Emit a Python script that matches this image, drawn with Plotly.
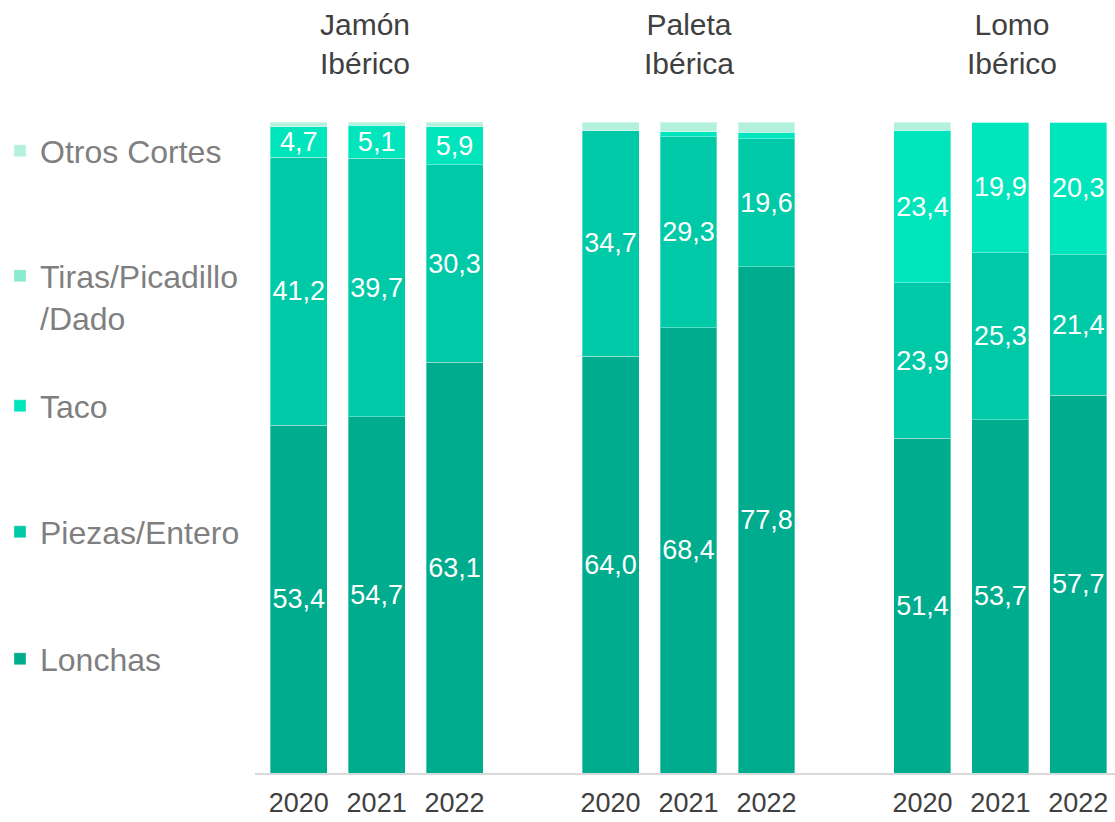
import plotly.graph_objects as go

# Categories
products = ["Jamón<br>Ibérico", "Paleta<br>Ibérica", "Lomo<br>Ibérico"]
years = ["2020", "2021", "2022"]

# Share (%) per cut, ordered product by product, year by year
lonchas = [53.4, 54.7, 63.1, 64.0, 68.4, 77.8, 51.4, 53.7, 57.7]
piezas = [41.2, 39.7, 30.3, 34.7, 29.3, 19.6, 23.9, 25.3, 21.4]
taco = [4.7, 5.1, 5.9, 0.0, 0.8, 1.0, 23.4, 19.9, 20.3]
tiras = [0.0, 0.0, 0.0, 0.0, 0.0, 0.0, 0.0, 0.0, 0.0]
otros = [0.7, 0.5, 0.7, 1.3, 1.5, 1.6, 1.3, 0.0, 0.0]

series = [
    ("Lonchas", lonchas, "#00AC8E"),
    ("Piezas/Entero", piezas, "#00C9A7"),
    ("Taco", taco, "#00E5BC"),
    ("Tiras/Picadillo<br>/Dado", tiras, "#88EBD0"),
    ("Otros Cortes", otros, "#B4F1DD"),
]

FONT = "Arial, Liberation Sans, sans-serif"

# One slot per year, with an empty slot between products
x_pos = [g * 4 + i for g in range(len(products)) for i in range(len(years))]
tick_text = [y for _ in products for y in years]


def label(v):
    return f"{v:.1f}".replace(".", ",") if v >= 3 else ""


# Vertical centre (px from top) of each legend entry
legend_y_px = {"Lonchas": 659, "Piezas/Entero": 532, "Taco": 406,
               "Tiras/Picadillo<br>/Dado": 297, "Otros Cortes": 151}

fig = go.Figure()
layout_legends = {}
for k, (name, vals, color) in enumerate(series):
    lg = "legend" if k == 0 else f"legend{k + 1}"
    fig.add_trace(go.Bar(
        x=x_pos, y=vals, name=name,
        marker=dict(color=color, line=dict(color="rgba(255,255,255,0.35)", width=1)),
        text=[label(v) for v in vals], texttemplate="%{text}",
        textposition="inside", insidetextanchor="middle",
        textangle=0, constraintext="none",
        insidetextfont=dict(color="white", size=27, family=FONT),
        legend=lg, showlegend=True,
    ))
    layout_legends[lg] = dict(
        xref="container", yref="container",
        x=0.0, xanchor="left",
        y=1 - legend_y_px[name] / 822, yanchor="middle",
        font=dict(size=32, color="#7F7F7F", family=FONT),
        bgcolor="rgba(0,0,0,0)", valign="top",
        itemclick=False, itemdoubleclick=False,
    )

# Product titles above each group
title_shift = [-12, 0, 12]
for g, p in enumerate(products):
    fig.add_annotation(
        x=g * 4 + 1, y=1, xref="x", yref="paper",
        yshift=40, xshift=title_shift[g], text=p, showarrow=False,
        font=dict(size=30, color="#404040", family=FONT),
        xanchor="center", yanchor="bottom", align="center",
    )

fig.update_layout(
    width=1115, height=822,
    margin=dict(l=255, r=0, t=122, b=49),
    barmode="stack", barnorm="percent", bargap=0.27,
    plot_bgcolor="white", paper_bgcolor="white",
    font=dict(family=FONT),
    xaxis=dict(
        range=[-0.56, 10.47], tickvals=x_pos, ticktext=tick_text,
        showgrid=False, zeroline=False, automargin=False,
        showline=True, linecolor="#D9D9D9", linewidth=2,
        ticks="", ticklabelstandoff=5,
        tickfont=dict(size=27, color="#404040", family=FONT),
    ),
    yaxis=dict(range=[0, 100], visible=False, automargin=False),
    **layout_legends,
)

fig.write_html("out.html")
